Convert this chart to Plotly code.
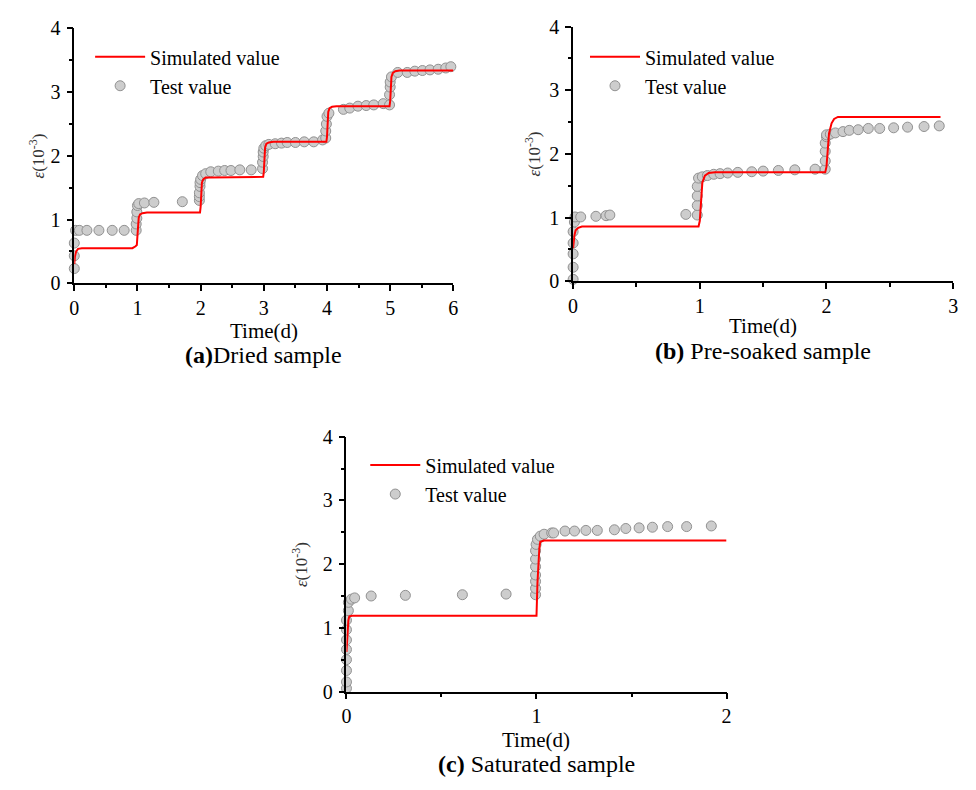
import plotly.graph_objects as go

# ---------------- data ----------------
# (a) Dried sample
ta_x = [0.0, 0.0, 0.0, 0.02, 0.08, 0.2, 0.39, 0.6, 0.79, 0.98, 0.98, 0.99, 0.99, 1.0, 1.02,
        1.11, 1.26, 1.71, 1.98, 1.98, 1.98, 1.99, 1.99, 2.0, 2.03, 2.08, 2.16, 2.28, 2.38, 2.48,
        2.62, 2.8, 2.98, 2.98, 2.99, 2.99, 3.0, 3.03, 3.08, 3.18, 3.28, 3.37, 3.5, 3.64, 3.79,
        3.93, 3.98, 3.98, 3.99, 4.0, 4.03, 4.26, 4.36, 4.49, 4.62, 4.74, 4.89, 4.99, 4.99, 5.0,
        5.0, 5.02, 5.12, 5.27, 5.39, 5.51, 5.63, 5.76, 5.88, 5.96]
ta_y = [0.23, 0.43, 0.63, 0.83, 0.83, 0.83, 0.83, 0.83, 0.83, 0.83, 0.93, 1.02, 1.12, 1.22, 1.25,
        1.26, 1.27, 1.28, 1.30, 1.36, 1.42, 1.52, 1.58, 1.63, 1.69, 1.72, 1.75, 1.76, 1.77, 1.77,
        1.78, 1.78, 1.80, 1.90, 1.99, 2.06, 2.12, 2.16, 2.18, 2.19, 2.20, 2.21, 2.21, 2.22, 2.22,
        2.25, 2.28, 2.39, 2.50, 2.62, 2.67, 2.73, 2.75, 2.78, 2.79, 2.80, 2.82, 2.80, 2.96, 3.08,
        3.16, 3.24, 3.31, 3.31, 3.33, 3.34, 3.35, 3.36, 3.38, 3.40]
sa_x = [0.0, 0.01, 0.03, 0.06, 0.12, 0.92, 0.97, 0.99, 1.0, 1.01, 1.02, 1.04, 1.08, 1.15,
        1.99, 2.0, 2.01, 2.02, 2.04, 2.08, 2.15, 2.99, 3.0, 3.01, 3.02, 3.04, 3.08, 3.15,
        3.99, 4.0, 4.01, 4.02, 4.04, 4.08, 4.15, 4.99, 5.0, 5.01, 5.02, 5.04, 5.08, 5.15, 6.0]
sa_y = [0.30, 0.42, 0.50, 0.54, 0.55, 0.55, 0.58, 0.60, 0.75, 0.95, 1.03, 1.08, 1.10, 1.11,
        1.11, 1.20, 1.45, 1.58, 1.63, 1.66, 1.66, 1.67, 1.75, 2.00, 2.13, 2.19, 2.21, 2.22,
        2.22, 2.30, 2.55, 2.69, 2.75, 2.77, 2.78, 2.78, 2.86, 3.10, 3.24, 3.30, 3.33, 3.34, 3.34]

# (b) Pre-soaked sample
tb_x = [0.0, 0.0, 0.0, 0.0, 0.0, 0.01, 0.015, 0.06, 0.18, 0.26, 0.29, 0.89, 0.98, 0.98, 0.98,
        0.98, 0.99, 1.02, 1.06, 1.11, 1.16, 1.22, 1.3, 1.41, 1.5, 1.62, 1.75, 1.91, 1.99, 1.99,
        1.99, 1.99, 2.0, 2.0, 2.03, 2.07, 2.13, 2.18, 2.25, 2.33, 2.42, 2.53, 2.64, 2.77, 2.89]
tb_y = [0.03, 0.22, 0.43, 0.60, 0.78, 0.93, 1.01, 1.01, 1.02, 1.03, 1.04, 1.05, 1.04, 1.19, 1.34,
        1.49, 1.62, 1.64, 1.66, 1.68, 1.69, 1.70, 1.71, 1.72, 1.73, 1.74, 1.75, 1.76, 1.76, 1.89,
        2.04, 2.17, 2.27, 2.30, 2.31, 2.33, 2.35, 2.37, 2.38, 2.40, 2.40, 2.41, 2.42, 2.43, 2.44]
sb_x = [0.0, 0.005, 0.01, 0.02, 0.04, 0.07, 0.99, 1.0, 1.01, 1.02, 1.04, 1.07, 1.12,
        1.99, 2.0, 2.01, 2.02, 2.04, 2.06, 2.09, 2.9]
sb_y = [0.52, 0.62, 0.72, 0.80, 0.84, 0.86, 0.86, 0.95, 1.30, 1.55, 1.66, 1.70, 1.71,
        1.71, 1.80, 2.10, 2.32, 2.48, 2.55, 2.58, 2.58]

# (c) Saturated sample
tc_x = [0.0, 0.0, 0.0, 0.0, 0.0, 0.0, 0.0, 0.0, 0.01, 0.01, 0.026, 0.043, 0.13, 0.31, 0.61, 0.84,
        0.995, 0.995, 0.995, 0.995, 0.995, 0.995, 0.995, 0.998, 1.005, 1.02, 1.04, 1.08, 1.09,
        1.15, 1.2, 1.26, 1.32, 1.41, 1.47, 1.54, 1.61, 1.69, 1.79, 1.92]
tc_y = [0.05, 0.15, 0.33, 0.50, 0.66, 0.81, 0.97, 1.12, 1.27, 1.40, 1.45, 1.47, 1.50, 1.51, 1.52,
        1.53, 1.52, 1.62, 1.73, 1.83, 1.96, 2.08, 2.21, 2.31, 2.39, 2.44, 2.47, 2.49, 2.49,
        2.52, 2.52, 2.53, 2.53, 2.54, 2.56, 2.57, 2.58, 2.59, 2.59, 2.60]
sc_x = [0.0, 0.005, 0.01, 0.015, 0.03, 0.99, 1.0, 1.005, 1.01, 1.015, 1.02, 1.04, 2.0]
sc_y = [0.62, 0.95, 1.12, 1.18, 1.19, 1.19, 1.19, 1.70, 2.05, 2.25, 2.35, 2.37, 2.37]

x_max = [6, 3, 2]
captions = ["<b>(a)</b>Dried sample", "<b>(b)</b> Pre-soaked sample", "<b>(c)</b> Saturated sample"]
x_title = "Time(d)"
y_title = "<i>ε</i>(10<sup>-3</sup>)"
name_sim = "Simulated value"
name_test = "Test value"

# ---------------- layout helpers ----------------
W, H = 976, 790
FONT = "Liberation Serif, Times New Roman, serif"
RED = "rgb(255,0,0)"
# plot areas in pixels: (left, right, top, bottom)
areas = [(70, 453, 18, 280), (574, 958, 16, 278), (345, 729, 438, 700)]
legend_pos = [(86, 27), (586, 27), (364, 447)]
caption_y = [354, 350, 775]
xtitle_y = [329, 324, 750]
ytitle_x = [32, 533, 298]

fig = go.Figure()
datasets = [(ta_x, ta_y, sa_x, sa_y), (tb_x, tb_y, sb_x, sb_y), (tc_x, tc_y, sc_x, sc_y)]
layout = {}
for i, (tx, ty, sx, sy) in enumerate(datasets):
    n = "" if i == 0 else str(i + 1)
    lg = "legend" + n
    fig.add_trace(go.Scatter(x=tx, y=ty, mode="markers", name=name_test,
                             marker=dict(size=10, color="rgb(205,205,205)",
                                         line=dict(color="rgb(145,145,145)", width=1)),
                             xaxis="x" + n, yaxis="y" + n, legend=lg, legendrank=2,
                             cliponaxis=False))
    fig.add_trace(go.Scatter(x=sx, y=sy, mode="lines", name=name_sim,
                             line=dict(color=RED, width=2), xaxis="x" + n, yaxis="y" + n,
                             legend=lg, legendrank=1, cliponaxis=False))
    l, r, t, b = areas[i]
    common = dict(showline=True, linecolor="black", linewidth=1.5, showgrid=False,
                  zeroline=False, ticks="outside", ticklen=6, tickwidth=1.5, tickcolor="black",
                  tickfont=dict(family=FONT, size=20, color="black"),
                  minor=dict(ticks="outside", ticklen=3.5, tickwidth=1.5, tickcolor="black",
                             dtick=0.5, showgrid=False))
    layout["xaxis" + n] = dict(common, domain=[l / W, r / W], range=[0, x_max[i]], dtick=1,
                               anchor="y" + n)
    layout["yaxis" + n] = dict(common, domain=[1 - b / H, 1 - t / H], range=[0, 4], dtick=1,
                               anchor="x" + n, ticklabelstandoff=2)
    lx, ly = legend_pos[i]
    layout[lg] = dict(x=lx / W, y=1 - ly / H, xanchor="left", yanchor="top",
                      bgcolor="rgba(0,0,0,0)", font=dict(family=FONT, size=20, color="black"),
                      itemwidth=50, tracegroupgap=0)
    fig.add_annotation(x=(l + r) / 2 / W, y=1 - xtitle_y[i] / H, xref="paper", yref="paper",
                       text=x_title, showarrow=False, xanchor="center", yanchor="middle",
                       font=dict(family=FONT, size=21, color="black"))
    fig.add_annotation(x=ytitle_x[i] / W, y=1 - (t + b) / 2 / H, xref="paper", yref="paper",
                       text=y_title, showarrow=False, xanchor="center", yanchor="middle",
                       textangle=-90, font=dict(family=FONT, size=17, color="#333"))
    fig.add_annotation(x=(l + r) / 2 / W, y=1 - caption_y[i] / H, xref="paper", yref="paper",
                       text=captions[i], showarrow=False, xanchor="center", yanchor="middle",
                       font=dict(family=FONT, size=24, color="black"))

fig.update_layout(width=W, height=H, margin=dict(l=0, r=0, t=0, b=0),
                  paper_bgcolor="white", plot_bgcolor="white", showlegend=True, **layout)
fig.write_html("out.html")
